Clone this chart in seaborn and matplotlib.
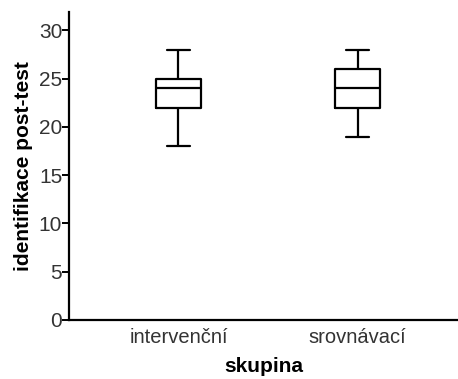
import numpy as np
import pandas as pd
import matplotlib
matplotlib.use("Agg")
import matplotlib.pyplot as plt
import seaborn as sns

# skupiny a skore post-testu (hodnoty odpovidaji kvartilum z grafu)
groups = ["intervenční", "srovnávací"]
scores_intervencni = [18, 22, 22, 24, 25, 25, 28]
scores_srovnavaci = [19, 22, 22, 24, 26, 26, 28]
y_ticks = [0, 5, 10, 15, 20, 25, 30]

df = pd.DataFrame({
    "skupina": [groups[0]] * len(scores_intervencni) + [groups[1]] * len(scores_srovnavaci),
    "score": scores_intervencni + scores_srovnavaci,
})

sns.set_style("ticks")
plt.rcParams["font.family"] = ["Liberation Sans", "DejaVu Sans"]

fig = plt.figure(figsize=(4.58, 3.79), dpi=100)
ax = fig.add_axes([0.151, 0.156, 0.849, 0.812])

sns.boxplot(data=df, x="skupina", y="score", order=groups, fill=False,
            color="black", linecolor="black", linewidth=1.6, width=0.25,
            whis=1.5, showfliers=False, ax=ax)

ax.set_ylim(0, 31.9)
ax.set_xlim(-0.61, 1.56)
ax.set_yticks(y_ticks)
ax.set_yticklabels([str(t) for t in y_ticks], fontsize=15, color="#333333")
ax.tick_params(axis="x", length=0, labelsize=14.5, labelcolor="#333333", pad=6)
ax.tick_params(axis="y", length=5, width=1.4, pad=0, direction="out", color="black")

ax.set_xlabel("skupina", fontsize=15, fontweight="bold", labelpad=7, color="black")
ax.set_ylabel("identifikace post-test", fontsize=15, fontweight="bold", labelpad=4, color="black")

for side in ["top", "right"]:
    ax.spines[side].set_visible(False)
for side in ["left", "bottom"]:
    ax.spines[side].set_linewidth(1.6)
    ax.spines[side].set_color("black")

fig.savefig("out.png", dpi=100)
